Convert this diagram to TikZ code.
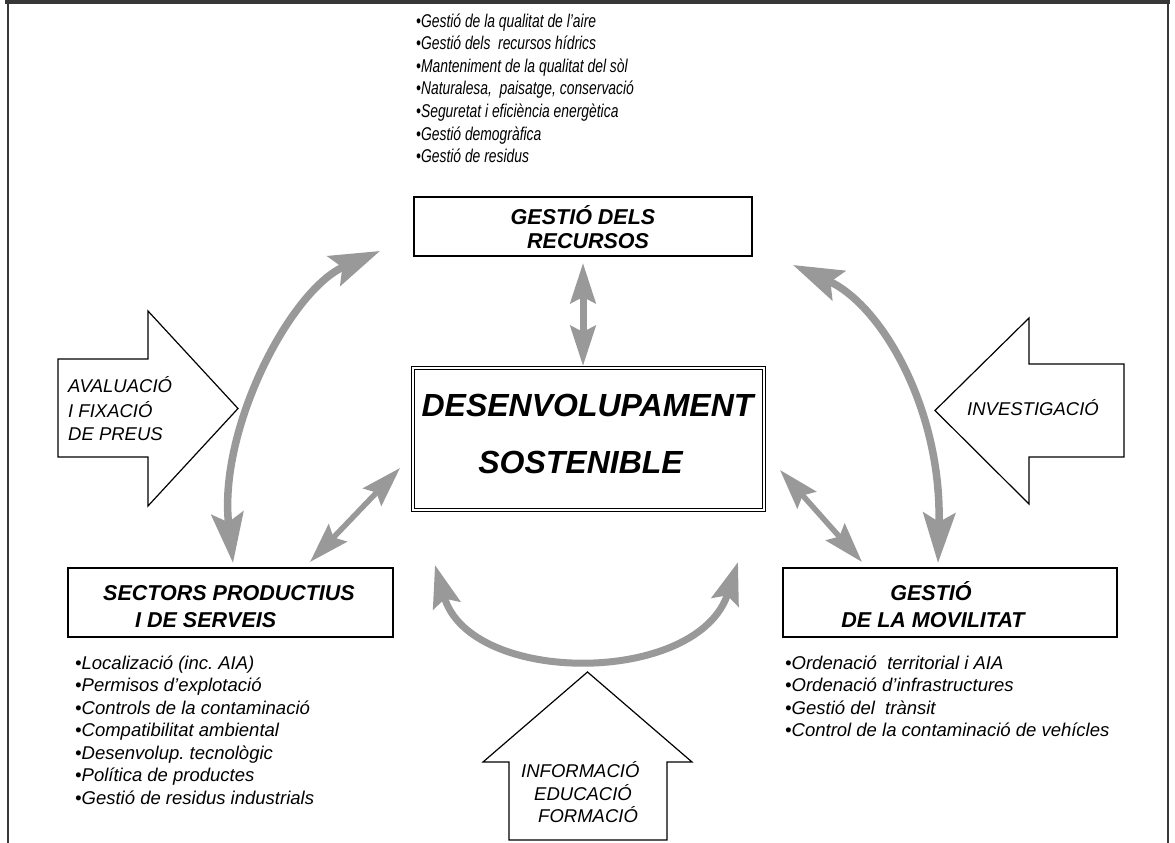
\documentclass[tikz,border=0pt]{standalone}
\usepackage{fontspec}
\setmainfont{Liberation Sans}
\newfontfamily\narrowfont[FakeStretch=0.75]{Liberation Sans}
\usetikzlibrary{arrows.meta}
\definecolor{agray}{RGB}{153,153,153}
\definecolor{framegray}{RGB}{55,55,55}
\begin{document}
\begin{tikzpicture}[x=1pt,y=-1pt,
  bigtip/.tip={Stealth[length=50pt,width=32pt,inset=9pt]},
  midtip/.tip={Stealth[length=42pt,width=28pt,inset=7pt]},
  smalltip/.tip={Stealth[length=40pt,width=25pt,inset=6pt]},
  bigarc/.style={draw=agray,line width=7.5pt,bigtip-bigtip},
  botarc/.style={draw=agray,line width=7pt,midtip-midtip},
  vlink/.style={draw=agray,line width=7pt,smalltip-smalltip},
  dlink/.style={draw=agray,line width=5.5pt,smalltip-smalltip},
  box/.style={draw=black,line width=1.4pt,fill=white,inner sep=0pt},
  blockarrow/.style={draw=black,line width=1.2pt,fill=white,line join=miter},
  ttl/.style={font=\fontsize{21.5}{25}\selectfont\bfseries\itshape,inner sep=0pt,anchor=base},
  dst/.style={font=\fontsize{32}{38}\selectfont\bfseries\itshape,inner sep=0pt,anchor=base},
  lst/.style={font=\fontsize{18.5}{22.5}\selectfont\itshape,inner sep=0pt,anchor=base west},
  toplst/.style={font=\fontsize{18.5}{22.5}\selectfont\narrowfont\itshape,inner sep=0pt,anchor=base west},
  lbl/.style={font=\fontsize{18.5}{24}\selectfont\itshape,inner sep=0pt}
]
\useasboundingbox (0,0) rectangle (1175,843);
\fill[white] (0,0) rectangle (1175,843);

% frame
\draw[framegray,line width=4pt] (5,2.5) -- (1170,2.5);
\draw[framegray,line width=1.5pt] (8,2.5) -- (8,850);
\draw[framegray,line width=2pt] (1168,2.5) -- (1168,850);

% top list
\foreach \itm [count=\i] in {{•Gestió de la qualitat de l’aire},{•Gestió dels\ \ recursos hídrics},{•Manteniment de la qualitat del sòl},{•Naturalesa,\ \ paisatge, conservació},{•Seguretat i eficiència energètica},{•Gestió demogràfica},{•Gestió de residus}}
  \node[toplst] (top\i) at (416,{27.5+22.5*(\i-1)}) {\itm};

% boxes
\node[box,minimum width=338pt,minimum height=59pt] (gr) at (583,226.5) {};
\node[ttl] (gr1) at (583,224.5) {GESTIÓ DELS};
\node[ttl,anchor=base west] (gr2) at (527,248.5) {RECURSOS};

\node[box,double,double distance=2.2pt,line width=1.1pt,minimum width=351pt,minimum height=142pt] (ds) at (588.5,439) {};
\node[dst] (ds1) at (587.5,416.5) {DESENVOLUPAMENT};
\node[dst] (ds2) at (580.5,473.5) {SOSTENIBLE};

\node[box,minimum width=325pt,minimum height=69pt] (sp) at (230.5,602.5) {};
\node[ttl,anchor=base west] (sp1) at (103,600.7) {SECTORS PRODUCTIUS};
\node[ttl,anchor=base west] (sp2) at (135,627.7) {I DE SERVEIS};

\node[box,minimum width=334pt,minimum height=69pt] (mv) at (950,602.5) {};
\node[ttl] (mv1) at (931,600.7) {GESTIÓ};
\node[ttl] (mv2) at (933,627.7) {DE LA MOVILITAT};

% bottom lists
\foreach \itm [count=\i] in {{•Localizació (inc.\ AIA)},{•Permisos d’explotació},{•Controls de la contaminació},{•Compatibilitat ambiental},{•Desenvolup.\ tecnològic},{•Política de productes},{•Gestió de residus industrials}}
  \node[lst] (sl\i) at (75,{669+22.5*(\i-1)}) {\itm};
\foreach \itm [count=\i] in {{•Ordenació\ \ territorial i AIA},{•Ordenació d’infrastructures},{•Gestió del\ \ trànsit},{•Control de la contaminació de vehícles}}
  \node[lst] (ml\i) at (785,{669+22.5*(\i-1)}) {\itm};

% block arrows
\draw[blockarrow] (58,359) -- (148,359) -- (148,311) -- (238,408.5) -- (148,506) -- (148,457) -- (58,457) -- cycle;
\node[lbl,anchor=base west] (av1) at (68,392) {AVALUACIÓ};
\node[lbl,anchor=base west] (av2) at (68,417) {I FIXACIÓ};
\node[lbl,anchor=base west] (av3) at (68,440) {DE PREUS};

\draw[blockarrow] (1124,364) -- (1029,364) -- (1029,318) -- (935,410.5) -- (1029,504) -- (1029,457) -- (1124,457) -- cycle;
\node[lbl,anchor=base] (inv) at (1033,415) {INVESTIGACIÓ};

\draw[blockarrow] (509,840) -- (509,762) -- (483,762) -- (587.5,672) -- (692,762) -- (667,762) -- (667,840) -- cycle;
\node[lbl,anchor=base west] (inf1) at (521,777) {INFORMACIÓ};
\node[lbl,anchor=base west] (inf2) at (534,800) {EDUCACIÓ};
\node[lbl,anchor=base west] (inf3) at (538,822) {FORMACIÓ};

% connector end points
\coordinate (la1) at (380,251);
\coordinate (la2) at (233,563);
\coordinate (ra1) at (793,265);
\coordinate (ra2) at (938,563);
\coordinate (ba1) at (435,565);
\coordinate (ba2) at (738,562);
\coordinate (va1) at (583,263);
\coordinate (va2) at (583,366);
\coordinate (dl1) at (310,562);
\coordinate (dl2) at (400,468);
\coordinate (dr1) at (780,470);
\coordinate (dr2) at (862,562);

% connectors
\draw[bigarc] (la1) .. controls (290,290) and (218,430) .. (la2);
\draw[bigarc] (ra1) .. controls (882,305) and (942,410) .. (ra2);
\draw[botarc] (ba1) .. controls (470,686) and (698,686) .. (ba2);
\draw[vlink] (va1) -- (va2);
\draw[dlink] (dl1) -- (dl2);
\draw[dlink] (dr1) -- (dr2);
\end{tikzpicture}
\end{document}
